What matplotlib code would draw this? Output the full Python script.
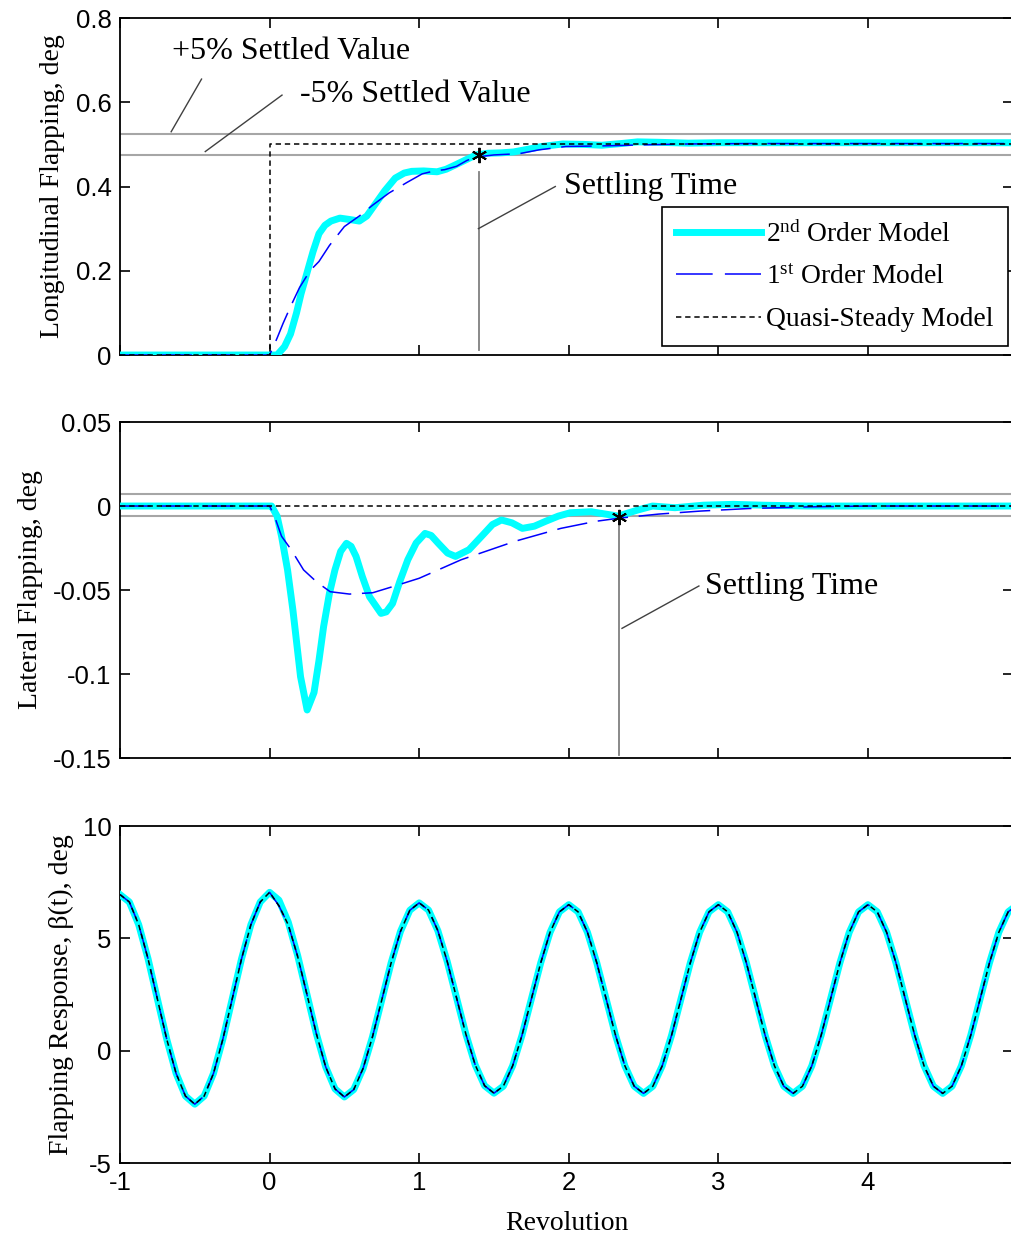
import numpy as np
import matplotlib
matplotlib.use("Agg")
import matplotlib.pyplot as plt
from matplotlib.lines import Line2D

plt.rcParams['font.family'] = 'Liberation Sans'
plt.rcParams['axes.unicode_minus'] = False
plt.rcParams['mathtext.fontset'] = 'custom'
plt.rcParams['mathtext.rm'] = 'Liberation Serif'
plt.rcParams['mathtext.it'] = 'Liberation Serif:italic'

SERIF = 'Liberation Serif'
CYAN = '#00ffff'
BLUE = '#0000ff'

# ---- longitudinal flapping (deg) ----
x_long_2nd = [-1, 0.0, 0.05, 0.10, 0.14, 0.18, 0.21, 0.25, 0.29, 0.33, 0.37, 0.41, 0.47,
              0.53, 0.60, 0.65, 0.70, 0.77, 0.84, 0.90, 0.95, 1.03, 1.12, 1.18, 1.24, 1.31,
              1.38, 1.46, 1.55, 1.63, 1.72, 1.82, 1.96, 2.10, 2.22, 2.35, 2.46, 2.60, 2.8,
              3.0, 3.5, 4.0, 4.5, 5.0]
long_2nd = [0, 0, 0.0, 0.02, 0.05, 0.10, 0.145, 0.195, 0.245, 0.288, 0.308, 0.318, 0.325,
            0.322, 0.318, 0.33, 0.355, 0.39, 0.42, 0.432, 0.436, 0.437, 0.435, 0.441, 0.451,
            0.463, 0.475, 0.479, 0.48, 0.482, 0.488, 0.495, 0.501, 0.500, 0.498, 0.502,
            0.506, 0.505, 0.503, 0.504, 0.504, 0.504, 0.504, 0.504]
x_long_1st = [-1, 0, 0.05, 0.09, 0.14, 0.20, 0.27, 0.33, 0.40, 0.50, 0.60, 0.69, 0.80, 0.92,
              1.02, 1.10, 1.17, 1.25, 1.32, 1.38, 1.50, 1.67, 1.80, 1.98, 2.15, 2.30, 2.5,
              2.8, 3.2, 4.0, 5.0]
long_1st = [0, 0, 0.04, 0.075, 0.115, 0.16, 0.20, 0.222, 0.26, 0.305, 0.33, 0.356, 0.385,
            0.41, 0.43, 0.437, 0.44, 0.448, 0.462, 0.47, 0.475, 0.478, 0.487, 0.495, 0.496,
            0.497, 0.499, 0.501, 0.502, 0.502, 0.502]
x_long_qs = [-1, 0, 0, 5]
long_qs = [0, 0, 0.5, 0.5]
band_long = [0.525, 0.475]
settle_long = (1.40, 0.475)

# ---- lateral flapping (deg) ----
x_lat_2nd = [-1, 0.0, 0.013, 0.05, 0.08, 0.12, 0.156, 0.207, 0.251, 0.297, 0.33, 0.361,
             0.40, 0.437, 0.475, 0.514, 0.545, 0.578, 0.62, 0.668, 0.745, 0.78, 0.822,
             0.87, 0.924, 0.98, 1.039, 1.08, 1.128, 1.19, 1.243, 1.333, 1.435, 1.49, 1.55,
             1.62, 1.69, 1.77, 1.845, 1.93, 2.01, 2.15, 2.33, 2.46, 2.56, 2.71, 2.9, 3.1,
             3.3, 3.6, 4.0, 4.5, 5.0]
lat_2nd = [0, 0, 0, -0.006, -0.018, -0.038, -0.062, -0.1016, -0.1214, -0.111, -0.092,
           -0.0718, -0.052, -0.038, -0.027, -0.0222, -0.024, -0.030, -0.042, -0.054,
           -0.0639, -0.063, -0.058, -0.045, -0.032, -0.022, -0.0163, -0.0175, -0.0222,
           -0.028, -0.030, -0.026, -0.0163, -0.011, -0.0083, -0.010, -0.0133, -0.012,
           -0.0091, -0.006, -0.004, -0.0034, -0.006, -0.0024, 0.0, -0.001, 0.0005, 0.001,
           0.0005, 0.0, 0.0, 0.0, 0.0]
x_lat_1st = [-1, 0, 0.034, 0.08, 0.143, 0.227, 0.316, 0.405, 0.534, 0.69, 0.822, 1.0, 1.28,
             1.64, 1.947, 2.18, 2.33, 2.60, 2.88, 3.2, 3.6, 4.0, 5.0]
lat_1st = [0, 0, -0.0064, -0.018, -0.0258, -0.038, -0.0453, -0.051, -0.0524, -0.0516,
           -0.048, -0.043, -0.032, -0.021, -0.0133, -0.0091, -0.0073, -0.0048, -0.003,
           -0.0015, -0.0005, 0.0, 0.0]
x_lat_qs = [-1, 5]
lat_qs = [0, 0]
band_lat = [0.007, -0.006]
settle_lat = (2.336, -0.0064)

# ---- flapping response beta(t), sampled every 1/16 rev from -1 to 5 ----
rev = np.linspace(-1, 5, 97)
beta_2nd = [6.95, 6.62, 5.61, 4.09, 2.30, 0.51, -1.01, -2.02, -2.38, -2.02, -1.01, 0.51, 2.30, 4.09, 5.61, 6.62,
            7.05, 6.70, 5.72, 4.24, 2.50, 0.76, -0.72, -1.70, -2.06, -1.73, -0.79, 0.61, 2.26, 3.91, 5.31, 6.25,
            6.58, 6.26, 5.34, 3.97, 2.35, 0.73, -0.64, -1.56, -1.89, -1.58, -0.67, 0.69, 2.30, 3.91, 5.27, 6.18,
            6.50, 6.18, 5.27, 3.91, 2.30, 0.69, -0.67, -1.58, -1.90, -1.58, -0.67, 0.69, 2.30, 3.91, 5.27, 6.18,
            6.50, 6.18, 5.27, 3.91, 2.30, 0.69, -0.67, -1.58, -1.90, -1.58, -0.67, 0.69, 2.30, 3.91, 5.27, 6.18,
            6.50, 6.18, 5.27, 3.91, 2.30, 0.69, -0.67, -1.58, -1.90, -1.58, -0.67, 0.69, 2.30, 3.91, 5.27, 6.18,
            6.50]
beta_1st = [6.95, 6.62, 5.61, 4.09, 2.30, 0.51, -1.01, -2.02, -2.38, -2.02, -1.01, 0.51, 2.30, 4.09, 5.61, 6.62,
            7.05, 6.45, 5.60, 4.20, 2.50, 0.76, -0.72, -1.70, -2.06, -1.73, -0.79, 0.61, 2.26, 3.91, 5.31, 6.25,
            6.58, 6.26, 5.34, 3.97, 2.35, 0.73, -0.64, -1.56, -1.89, -1.58, -0.67, 0.69, 2.30, 3.91, 5.27, 6.18,
            6.50, 6.18, 5.27, 3.91, 2.30, 0.69, -0.67, -1.58, -1.90, -1.58, -0.67, 0.69, 2.30, 3.91, 5.27, 6.18,
            6.50, 6.18, 5.27, 3.91, 2.30, 0.69, -0.67, -1.58, -1.90, -1.58, -0.67, 0.69, 2.30, 3.91, 5.27, 6.18,
            6.50, 6.18, 5.27, 3.91, 2.30, 0.69, -0.67, -1.58, -1.90, -1.58, -0.67, 0.69, 2.30, 3.91, 5.27, 6.18,
            6.50]

x_ticks = [-1, 0, 1, 2, 3, 4]
BLUE_DASH = (20, 7)
QS_DASH = (3.5, 2.5)

fig = plt.figure(figsize=(10.11, 12.34), dpi=100)
ax1 = fig.add_axes([0.1187, 0.7123, 0.8833, 0.2731])
ax2 = fig.add_axes([0.1187, 0.3857, 0.8833, 0.2723])
ax3 = fig.add_axes([0.1187, 0.0575, 0.8833, 0.2731])


def style(ax):
    ax.set_xlim(-1, 4.97)
    ax.set_xticks(x_ticks)
    ax.tick_params(direction='in', length=7, width=1.2, top=True, right=True,
                   labelsize=18.5, pad=6)
    for s in ax.spines.values():
        s.set_linewidth(1.3)


def draw_three(ax, x2, y2, x1, y1, xq, yq):
    ax.plot(x2, y2, color=CYAN, lw=5, solid_joinstyle='round', zorder=3)
    ax.plot(x1, y1, color=BLUE, lw=1.1, dashes=BLUE_DASH, zorder=4)
    ax.plot(xq, yq, color='black', lw=1.1, dashes=QS_DASH, zorder=5)


# panel 1: longitudinal
for b in band_long:
    ax1.axhline(b, color='#a6a6a6', lw=1.5, zorder=2)
draw_three(ax1, x_long_2nd, long_2nd, x_long_1st, long_1st, x_long_qs, long_qs)
ax1.plot([settle_long[0], settle_long[0]], [0.435, 0.012], color='#808080', lw=1.3, zorder=2)
ax1.plot(*settle_long, marker=(6, 2, 0), color='black', ms=11, mew=1.4, zorder=6)
ax1.plot([-0.455, -0.658], [0.655, 0.53], color='#404040', lw=1)
ax1.plot([0.083, -0.43], [0.617, 0.483], color='#404040', lw=1)
ax1.plot([1.396, 1.91], [0.30, 0.40], color='#404040', lw=1)
ax1.text(-0.655, 0.72, '+5% Settled Value', family=SERIF, fontsize=23, va='center')
ax1.text(0.20, 0.618, '-5% Settled Value', family=SERIF, fontsize=23, va='center')
ax1.text(1.965, 0.40, 'Settling Time', family=SERIF, fontsize=23, va='center')
ax1.set_ylim(0, 0.8)
ax1.set_yticks([0, 0.2, 0.4, 0.6, 0.8])
ax1.set_yticklabels(['0', '0.2', '0.4', '0.6', '0.8'])
ax1.set_xticklabels([])
ax1.set_ylabel('Longitudinal Flapping, deg', family=SERIF, fontsize=20)
ax1.yaxis.set_label_coords(-0.062, 0.5)
style(ax1)

handles = [Line2D([], [], color=CYAN, lw=5),
           Line2D([], [], color=BLUE, lw=1.1, dashes=(24, 8)),
           Line2D([], [], color='black', lw=1.1, dashes=QS_DASH)]
labels = ['2$^{\\mathrm{nd}}$ Order Model', '1$^{\\mathrm{st}}$ Order Model', 'Quasi-Steady Model']
leg = ax1.legend(handles, labels, loc='lower right', bbox_to_anchor=(0.994, 0.027),
                 prop={'family': SERIF, 'size': 19.8}, fancybox=False, edgecolor='black',
                 framealpha=1, handlelength=3.1, handletextpad=0.18, labelspacing=0.62,
                 borderpad=0.5, borderaxespad=0)
leg.get_frame().set_linewidth(1.2)

# panel 2: lateral
for b in band_lat:
    ax2.axhline(b, color='#a6a6a6', lw=1.5, zorder=2)
draw_three(ax2, x_lat_2nd, lat_2nd, x_lat_1st, lat_1st, x_lat_qs, lat_qs)
ax2.plot([settle_lat[0], settle_lat[0]], [-0.0095, -0.148], color='#808080', lw=1.3, zorder=2)
ax2.plot(*settle_lat, marker=(6, 2, 0), color='black', ms=11, mew=1.4, zorder=6)
ax2.plot([2.356, 2.87], [-0.0728, -0.0476], color='#404040', lw=1)
ax2.text(2.91, -0.0476, 'Settling Time', family=SERIF, fontsize=23, va='center')
ax2.set_ylim(-0.15, 0.05)
ax2.set_yticks([-0.15, -0.1, -0.05, 0, 0.05])
ax2.set_yticklabels(['-0.15', '-0.1', '-0.05', '0', '0.05'])
ax2.set_xticklabels([])
ax2.set_ylabel('Lateral Flapping, deg', family=SERIF, fontsize=20)
ax2.yaxis.set_label_coords(-0.086, 0.5)
style(ax2)

# panel 3: flapping response
draw_three(ax3, rev, beta_2nd, rev, beta_1st, rev, beta_1st)
ax3.set_ylim(-5, 10)
ax3.set_yticks([-5, 0, 5, 10])
ax3.set_xticklabels(['-1', '0', '1', '2', '3', '4'])
ax3.set_ylabel('Flapping Response, \u03b2(t), deg', family=SERIF, fontsize=20)
ax3.yaxis.set_label_coords(-0.052, 0.5)
ax3.set_xlabel('Revolution', family=SERIF, fontsize=20, labelpad=11)
style(ax3)

fig.savefig('out.png', dpi=100)
